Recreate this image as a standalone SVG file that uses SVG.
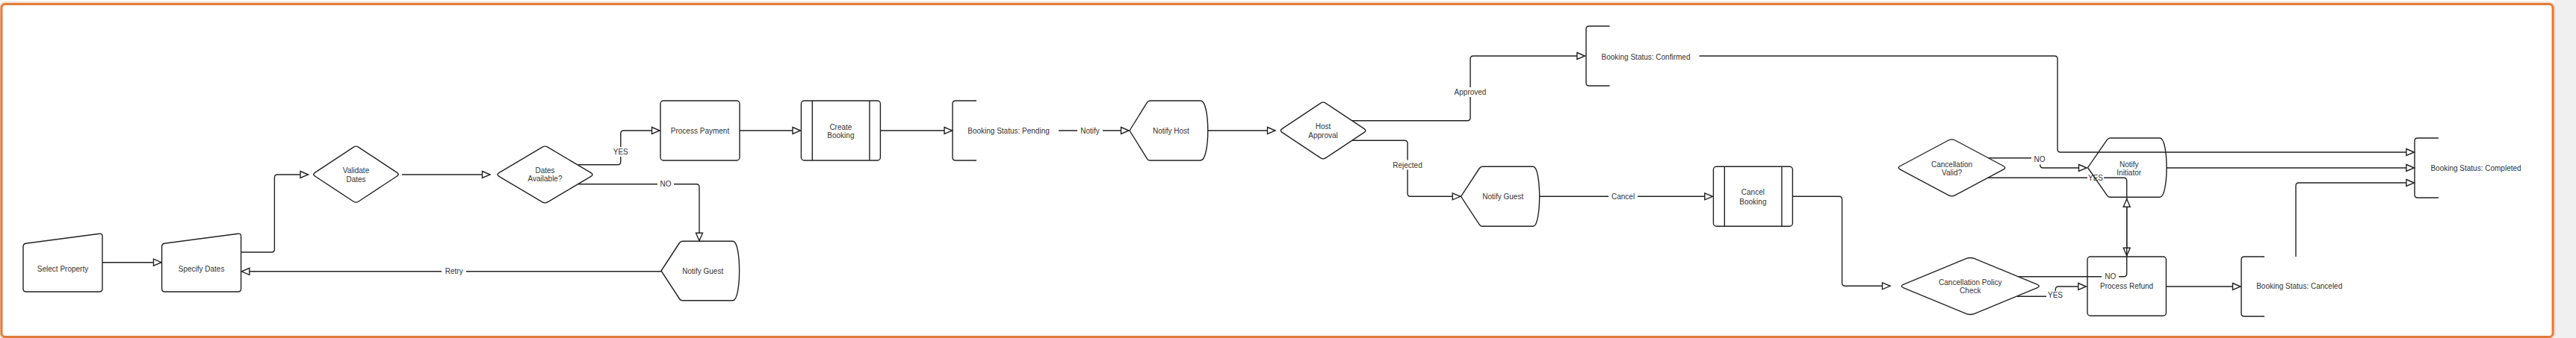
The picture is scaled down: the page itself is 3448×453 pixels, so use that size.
<svg xmlns="http://www.w3.org/2000/svg" width="3448" height="453" viewBox="0 0 3448 453">
<defs>
<marker id="arr" markerUnits="userSpaceOnUse" markerWidth="14" markerHeight="14" refX="11" refY="5" orient="auto" overflow="visible">
<path d="M0.5,0.5 L11,5 L0.5,9.5 Z" fill="#fff" stroke="#222" stroke-width="1.4" stroke-linejoin="miter"/>
</marker>
<style>
.shape{fill:#fff;stroke:#222;stroke-width:1.4;}
.br{fill:none;stroke:#222;stroke-width:1.4;}
.edge{fill:none;stroke:#222;stroke-width:1.4;marker-end:url(#arr);}
.t{font-family:"Liberation Sans",Arial,sans-serif;font-size:10px;fill:#333;text-anchor:middle;}
.bg{fill:#fff;}
</style>
</defs>
<rect x="0" y="0" width="3448" height="453" fill="#fff"/>
<rect x="3419" y="0" width="29" height="453" fill="#f0f0f0"/>
<rect x="2" y="5.5" width="3415" height="446" rx="5" fill="none" stroke="#E07B39" stroke-opacity="0.25" stroke-width="7"/>
<rect x="2" y="5.5" width="3415" height="446" rx="5" fill="#fff" stroke="#E07B39" stroke-width="3"/>

<g id="connectors">
<path class="edge" d="M137,351.7 L216,351.7"/>
<path class="edge" d="M322.6,338 L363.4,338 Q367.4,338 367.4,334 L367.4,238 Q367.4,234 371.4,234 L412.5,234"/>
<path class="edge" d="M538,234 L656,234"/>
<path class="edge" d="M774,220.7 L826.8,220.7 Q830.8,220.7 830.8,216.7 L830.8,179 Q830.8,175 834.8,175 L883,175"/>
<path class="edge" d="M774,246.7 L932,246.7 Q936,246.7 936,250.7 L936,322.7"/>
<path class="edge" d="M885,363.8 L323.4,363.8"/>
<path class="edge" d="M990,175 L1071.5,175"/>
<path class="edge" d="M1178.4,175 L1274.5,175"/>
<path class="edge" d="M1417,175 L1511,175"/>
<path class="edge" d="M1617,175 L1707,175"/>
<path class="edge" d="M1810,161.7 L1964,161.7 Q1968,161.7 1968,157.7 L1968,79 Q1968,75 1972,75 L2121.4,75"/>
<path class="edge" d="M1810,188.3 L1880,188.3 Q1884,188.3 1884,192.3 L1884,259.3 Q1884,263.3 1888,263.3 L1954.7,263.3"/>
<path class="edge" d="M2274.5,75 L2750,75 Q2754,75 2754,79 L2754,200 Q2754,204 2758,204 L3231.4,204"/>
<path class="edge" d="M2060.7,263.3 L2292.3,263.3"/>
<path class="edge" d="M2399.4,263.3 L2461.6,263.3 Q2465.6,263.3 2465.6,267.3 L2465.6,379.3 Q2465.6,383.3 2469.6,383.3 L2530,383.3"/>
<path class="edge" d="M2661.4,211.7 L2730.7,211.7 L2730.7,221 Q2730.7,225 2734.7,225 L2793,225"/>
<path class="edge" d="M2660.7,238.3 L2842.7,238.3 Q2846.7,238.3 2846.7,242.3 L2846.7,342.7"/>
<path class="edge" d="M2900,225 L3231.4,225"/>
<path class="edge" d="M2702,370.7 L2842.7,370.7 Q2846.7,370.7 2846.7,366.7 L2846.7,266.7"/>
<path class="edge" d="M2700,397.3 L2751.3,397.3 L2751.3,388 Q2751.3,384 2755.3,384 L2792.3,384"/>
<path class="edge" d="M2899.4,384 L2999,384"/>
<path class="edge" d="M3073,344 L3073,249 Q3073,245 3077,245 L3231.4,245"/>
<g id="edge-labels">
<rect class="bg" x="591" y="357" width="33" height="14"/><text class="t" x="607.7" y="367.3">Retry</text>
<rect class="bg" x="819" y="197" width="24" height="13"/><text class="t" x="830.8" y="206.8">YES</text>
<rect class="bg" x="880" y="240" width="22" height="13"/><text class="t" x="891" y="250.2">NO</text>
<rect class="bg" x="1442" y="168.5" width="34" height="13"/><text class="t" x="1459" y="178.5">Notify</text>
<rect class="bg" x="1945" y="117" width="46" height="13"/><text class="t" x="1968" y="126.8">Approved</text>
<rect class="bg" x="1862" y="214.5" width="44" height="13"/><text class="t" x="1884" y="224.5">Rejected</text>
<rect class="bg" x="2153" y="256.5" width="39" height="13"/><text class="t" x="2172.6" y="266.8">Cancel</text>
<rect class="bg" x="2719" y="206.5" width="22" height="14"/><text class="t" x="2730" y="216.8">NO</text>
<rect class="bg" x="2794" y="232" width="22" height="13"/><text class="t" x="2805" y="241.8">YES</text>
<rect class="bg" x="2813" y="364.5" width="23" height="13"/><text class="t" x="2824.8" y="374.2">NO</text>
<rect class="bg" x="2739" y="390" width="24" height="13"/><text class="t" x="2751" y="399.2">YES</text>
</g>
</g>

<g id="select-property">
<path class="shape" d="M31,330.5 Q31,327 34.5,326.3 L133,313.2 Q137,312.7 137,316.5 L137,387 Q137,391 133,391 L35,391 Q31,391 31,387 Z"/>
<text class="t" x="84" y="363.5">Select Property</text>
</g>
<g id="specify-dates">
<path class="shape" d="M216.6,330.5 Q216.6,327 220.1,326.3 L318.6,313.2 Q322.6,312.7 322.6,316.5 L322.6,387 Q322.6,391 318.6,391 L220.6,391 Q216.6,391 216.6,387 Z"/>
<text class="t" x="269.6" y="363.5">Specify Dates</text>
</g>
<g id="validate-dates">
<path class="shape" d="M421.5,231.4 L473,197.3 Q476.5,195 480,197.3 L531.5,231.4 Q535,233.7 531.5,236 L480,270 Q476.5,272.3 473,270 L421.5,236 Q418,233.7 421.5,231.4 Z"/>
<text class="t" x="476.5" y="232.3">Validate</text>
<text class="t" x="476.5" y="243.5">Dates</text>
</g>
<g id="dates-available">
<path class="shape" d="M667.9,231.7 L725.6,197.3 Q729.5,195 733.4,197.3 L791.1,231.7 Q795,234 791.1,236.3 L733.4,270.7 Q729.5,273 725.6,270.7 L667.9,236.3 Q664,234 667.9,231.7 Z"/>
<text class="t" x="729.5" y="231.8">Dates</text>
<text class="t" x="729.5" y="242.8">Available?</text>
</g>
<g id="process-payment">
<rect class="shape" x="884" y="135" width="106" height="80" rx="4"/>
<text class="t" x="937" y="179.2">Process Payment</text>
</g>
<g id="notify-guest-1">
<path class="shape" d="M885,363 L909.5,325.5 Q911,323.3 913.5,323.3 L981,323.3 C992.5,323.3 992.5,402.7 981,402.7 L913.5,402.7 Q911,402.7 909.5,400.5 Z"/>
<text class="t" x="940.7" y="366.8">Notify Guest</text>
</g>
<g id="create-booking">
<rect class="shape" x="1072.4" y="135" width="106" height="80" rx="4"/>
<line class="br" x1="1087.3" y1="135" x2="1087.3" y2="215"/>
<line class="br" x1="1163.9" y1="135" x2="1163.9" y2="215"/>
<text class="t" x="1125.4" y="173.5">Create</text>
<text class="t" x="1125.4" y="184.5">Booking</text>
</g>
<g id="booking-pending">
<path class="br" d="M1307,135 L1279,135 Q1275,135 1275,139 L1275,211 Q1275,215 1279,215 L1307,215"/>
<text class="t" x="1350" y="179.2">Booking Status: Pending</text>
</g>
<g id="notify-host">
<path class="shape" d="M1512,175 L1535.5,137.2 Q1537,135 1539.5,135 L1607,135 C1620,135 1620,215 1607,215 L1539.5,215 Q1537,215 1535.5,212.8 Z"/>
<text class="t" x="1567.4" y="179.2">Notify Host</text>
</g>
<g id="host-approval">
<path class="shape" d="M1716,172.7 L1767.5,138.3 Q1771,136 1774.5,138.3 L1826.1,172.7 Q1829.6,175 1826.1,177.3 L1774.5,211.7 Q1771,214 1767.5,211.7 L1716,177.3 Q1712.5,175 1716,172.7 Z"/>
<text class="t" x="1771" y="173.2">Host</text>
<text class="t" x="1771" y="184.5">Approval</text>
</g>
<g id="booking-confirmed">
<path class="br" d="M2154.6,35 L2127,35 Q2123,35 2123,39 L2123,111 Q2123,115 2127,115 L2154.6,115"/>
<text class="t" x="2203" y="79.5">Booking Status: Confirmed</text>
</g>
<g id="notify-guest-2">
<path class="shape" d="M1955.5,263.3 L1980.3,225.5 Q1981.8,223.3 1984.3,223.3 L2052,223.3 C2063.5,223.3 2063.5,303.3 2052,303.3 L1984.3,303.3 Q1981.8,303.3 1980.3,301.1 Z"/>
<text class="t" x="2011.7" y="266.8">Notify Guest</text>
</g>
<g id="cancel-booking">
<rect class="shape" x="2293.4" y="223.3" width="106" height="80" rx="4"/>
<line class="br" x1="2308.3" y1="223.3" x2="2308.3" y2="303.3"/>
<line class="br" x1="2384.9" y1="223.3" x2="2384.9" y2="303.3"/>
<text class="t" x="2346.4" y="261.2">Cancel</text>
<text class="t" x="2346.4" y="273.5">Booking</text>
</g>
<g id="cancellation-valid">
<path class="shape" d="M2543.4,222.5 L2608.1,188 Q2612.5,185.7 2616.9,188 L2681.6,222.5 Q2686,224.8 2681.6,227.1 L2616.9,261.7 Q2612.5,264 2608.1,261.7 L2543.4,227.1 Q2539,224.8 2543.4,222.5 Z"/>
<text class="t" x="2612.5" y="223.5">Cancellation</text>
<text class="t" x="2612.5" y="235.2">Valid?</text>
</g>
<g id="cancellation-policy-check">
<path class="shape" d="M2548.1,381.2 L2631.6,346.6 Q2637.3,344.3 2643,346.6 L2726.5,381.2 Q2732.2,383.5 2726.5,385.8 L2643,420.4 Q2637.3,422.7 2631.6,420.4 L2548.1,385.8 Q2542.4,383.5 2548.1,381.2 Z"/>
<text class="t" x="2637.3" y="382.2">Cancellation Policy</text>
<text class="t" x="2637.3" y="393.2">Check</text>
</g>
<g id="notify-initiator">
<path class="shape" d="M2794.5,224.7 L2820.5,187.2 Q2822,185 2824.5,185 L2891,185 C2903,185 2903,264.3 2891,264.3 L2824.5,264.3 Q2822,264.3 2820.5,262.1 Z" fill-opacity="0"/>
<text class="t" x="2849.7" y="223.5">Notify</text>
<text class="t" x="2849.7" y="235.2">Initiator</text>
</g>
<g id="process-refund">
<rect class="shape" x="2794" y="344" width="105.4" height="79.3" rx="4" fill-opacity="0"/>
<text class="t" x="2846.6" y="386.8">Process Refund</text>
</g>
<g id="booking-canceled">
<path class="br" d="M3031,344 L3004,344 Q3000,344 3000,348 L3000,420 Q3000,424 3004,424 L3031,424"/>
<text class="t" x="3077.7" y="386.8">Booking Status: Canceled</text>
</g>
<g id="booking-completed">
<path class="br" d="M3264,185 L3236,185 Q3232,185 3232,189 L3232,261 Q3232,265 3236,265 L3264,265"/>
<text class="t" x="3314" y="229.2">Booking Status: Completed</text>
</g>
</svg>
